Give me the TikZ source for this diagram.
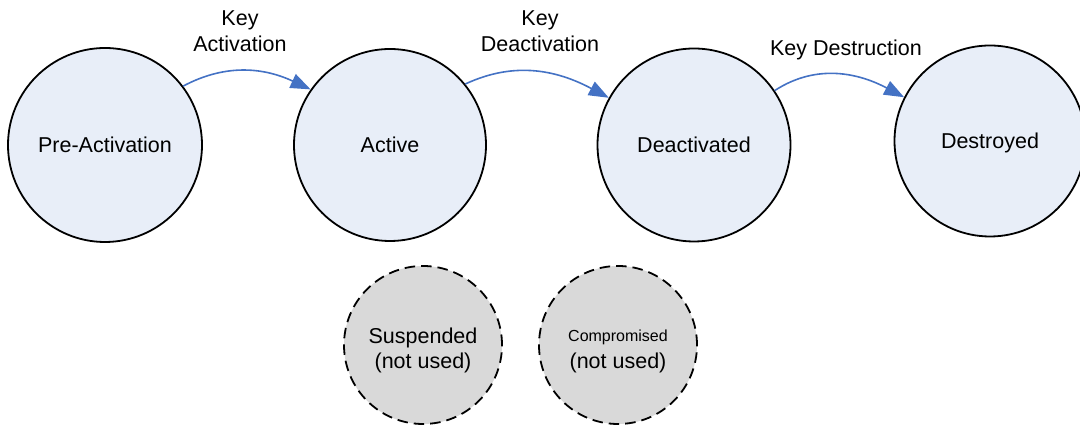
\documentclass[tikz,border=0pt]{standalone}
\usepackage{fontspec}
\setmainfont{Liberation Sans}
\usetikzlibrary{arrows.meta}
\definecolor{statefill}{HTML}{E8EEF8}
\definecolor{unusedfill}{HTML}{D9D9D9}
\definecolor{arrowblue}{HTML}{4472C4}
\begin{document}
\begin{tikzpicture}[x=1pt,y=1pt,
  every node/.style={font=\fontsize{21.5}{25.5}\selectfont},
  state/.style={circle,draw=black,line width=1.8pt,fill=statefill,inner sep=0pt,align=center},
  unused/.style={circle,draw=black,line width=1.8pt,fill=unusedfill,inner sep=0pt,align=center,dash pattern=on 10.5pt off 6pt},
  trans/.style={draw=arrowblue,line width=1.6pt,-{Triangle[length=20pt,width=15pt]}},
  lbl/.style={align=center,inner sep=0pt}]
\useasboundingbox (0,0) rectangle (1080,430);
\node[state,minimum size=194pt] (pa) at (105,285) {Pre-Activation};
\node[state,minimum size=192pt] (act) at (390,285) {Active};
\node[state,minimum size=193pt] (deact) at (694,285) {Deactivated};
\node[state,minimum size=191pt] (dest) at (990,289) {\raisebox{-2pt}[\height][\depth]{Destroyed}};
\node[unused,minimum size=158pt] (susp) at (423,85) {\raisebox{-6pt}[\height][\depth]{\begin{tabular}{@{}c@{}}Suspended\\[-1pt](not used)\end{tabular}}};
\node[unused,minimum size=158pt] (comp) at (618,85) {\raisebox{-5pt}[\height][\depth]{\begin{tabular}{@{}c@{}}{\fontsize{16}{19}\selectfont Compromised}\\[1pt](not used)\end{tabular}}};
\node[lbl] (l1) at (240,399) {Key\\Activation};
\node[lbl] (l2) at (540,399) {Key\\Deactivation};
\node[lbl] (l3) at (846,380) {Key Destruction};
\draw[trans] (pa.37) to[out=28,in=155] (act.145);
\draw[trans] (act.39) to[out=25,in=152] (deact.151);
\draw[trans] (deact.34) to[out=33,in=152] (dest.153);
\end{tikzpicture}
\end{document}
